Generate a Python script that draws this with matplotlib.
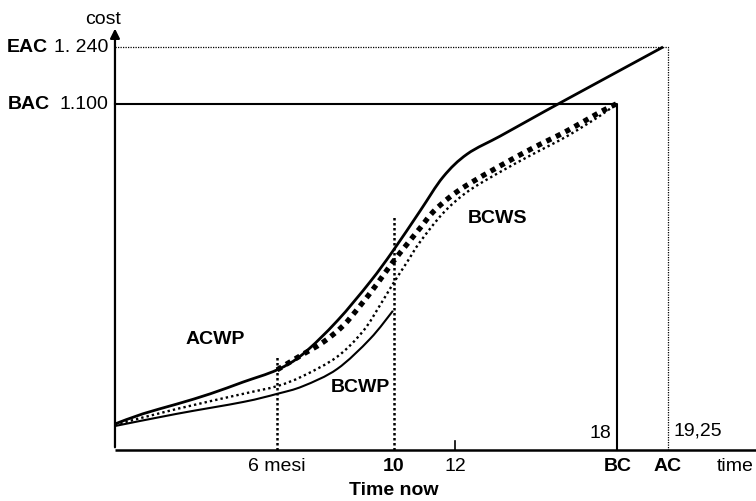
import matplotlib
matplotlib.use("Agg")
import matplotlib.pyplot as plt
from matplotlib.path import Path
from matplotlib.patches import PathPatch

plt.rcParams['font.family'] = ['Liberation Sans', 'DejaVu Sans']

# curves (time in months on the drawing's own scale, cost)
acwp_t = [0, 1.0, 2.22, 3.41, 4.59, 5.81, 6.74, 7.96, 9.14, 9.96, 10.93, 11.76, 12.62, 13.8, 14.98, 16.2, 19.64]
acwp_v = [314, 339, 363, 388, 417, 447, 486, 567, 663, 739, 837, 921, 977, 1021, 1066, 1112, 1240]

forecast_t = [5.81, 6.63, 7.46, 8.17, 8.78, 9.39, 9.96, 10.47, 10.93, 11.4, 12.01, 12.62, 13.8, 14.98, 16.2, 17.38, 17.96]
forecast_v = [447, 481, 515, 555, 604, 658, 712, 756, 795, 835, 872, 901, 948, 992, 1034, 1080, 1100]

bcws_t = [0, 2.22, 4.59, 5.81, 6.74, 7.96, 8.89, 9.5, 9.96, 10.47, 10.93, 11.76, 12.62, 13.8, 14.98, 16.2, 17.38, 17.96]
bcws_v = [312, 351, 388, 407, 432, 479, 542, 606, 658, 712, 761, 832, 884, 933, 977, 1021, 1071, 1100]

bcwp_t = [0, 2.22, 4.59, 5.81, 6.74, 7.96, 9.14, 9.96]
bcwp_v = [309, 339, 368, 388, 407, 449, 523, 592]

BAC = 1100
EAC = 1240
BC = 18
AC = 19.25
ac_pos = 19.8          # where the AC line sits on the drawing
six_pos = 5.8          # "6 mesi" line on the drawing
twelve_pos = 12.2
time_now = 10


def smooth(ax, xs, ys, **kw):
    # draw a smooth line through the points (Catmull-Rom as cubic Bezier)
    pts = list(zip(xs, ys))
    ext = [pts[0]] + pts + [pts[-1]]
    verts = [pts[0]]
    codes = [Path.MOVETO]
    for i in range(1, len(ext) - 2):
        p0, p1, p2, p3 = ext[i - 1], ext[i], ext[i + 1], ext[i + 2]
        c1 = (p1[0] + (p2[0] - p0[0]) / 6, p1[1] + (p2[1] - p0[1]) / 6)
        c2 = (p2[0] - (p3[0] - p1[0]) / 6, p2[1] - (p3[1] - p1[1]) / 6)
        verts += [c1, c2, p2]
        codes += [Path.CURVE4] * 3
    ax.add_patch(PathPatch(Path(verts, codes), fill=False, **kw))


fig = plt.figure(figsize=(7.56, 5.02), dpi=100)
ax = fig.add_axes([0, 0, 1, 1])
ax.set_xlim(-4.12, 22.97)
ax.set_ylim(124.8, 1357.9)
ax.axis('off')

base = 250
# axes
ax.annotate('', xy=(0, 1292), xytext=(0, base),
            arrowprops=dict(arrowstyle='-|>', lw=1.6, color='black', mutation_scale=14))
ax.plot([0, 22.97], [base, base], color='black', lw=1.8, solid_capstyle='butt')

# reference lines
ax.plot([0, BC, BC], [BAC, BAC, base], color='black', lw=1.5)
ax.plot([0, ac_pos, ac_pos], [EAC, EAC, base], color='black', lw=0.9, ls=(0, (1, 1)))
ax.plot([six_pos, six_pos], [base, 481], color='black', lw=1.8, ls=(0, (1, 1)))
ax.plot([time_now, time_now], [base, 822], color='black', lw=1.8, ls=(0, (1, 1)))
ax.plot([twelve_pos, twelve_pos], [base, 272], color='black', lw=1.2)

# curves
smooth(ax, acwp_t, acwp_v, edgecolor='black', lw=2.0)
smooth(ax, forecast_t, forecast_v, edgecolor='black', lw=3.8, ls=(0, (1, 1)))
smooth(ax, bcws_t, bcws_v, edgecolor='black', lw=1.7, ls=(0, (1, 1.3)))
smooth(ax, bcwp_t, bcwp_v, edgecolor='black', lw=1.5)

# curve labels
fs = 14
ax.text(3.58, 523, 'ACWP', fontsize=fs, fontweight='bold', ha='center', va='center')
ax.text(8.78, 405, 'BCWP', fontsize=fs, fontweight='bold', ha='center', va='center')
ax.text(13.69, 822, 'BCWS', fontsize=fs, fontweight='bold', ha='center', va='center')

# y labels
ax.text(-0.43, 1310, 'cost', fontsize=fs, ha='center', va='center')
ax.text(-0.25, EAC, '1. 240', fontsize=fs, ha='right', va='center')
ax.text(-2.4, EAC, 'EAC', fontsize=fs, fontweight='bold', ha='right', va='center')
ax.text(-0.25, BAC, '1.100', fontsize=fs, ha='right', va='center')
ax.text(-2.33, BAC, 'BAC', fontsize=fs, fontweight='bold', ha='right', va='center')

# x labels
ty = 211
ax.text(six_pos, ty, '6 mesi', fontsize=fs, ha='center', va='center')
ax.text(time_now, ty, '10', fontsize=fs, fontweight='bold', ha='center', va='center')
ax.text(twelve_pos, ty, '12', fontsize=fs, ha='center', va='center')
ax.text(BC, ty, 'BC', fontsize=fs, fontweight='bold', ha='center', va='center')
ax.text(ac_pos, ty, 'AC', fontsize=fs, fontweight='bold', ha='center', va='center')
ax.text(22.9, ty, 'time', fontsize=fs, ha='right', va='center')
ax.text(time_now, 154, 'Time now', fontsize=fs, fontweight='bold', ha='center', va='center')
ax.text(BC - 0.22, 294, '%d' % BC, fontsize=fs, ha='right', va='center')
ax.text(ac_pos + 0.22, 300, str(AC).replace('.', ','), fontsize=fs, ha='left', va='center')

fig.savefig('out.png', dpi=100)
